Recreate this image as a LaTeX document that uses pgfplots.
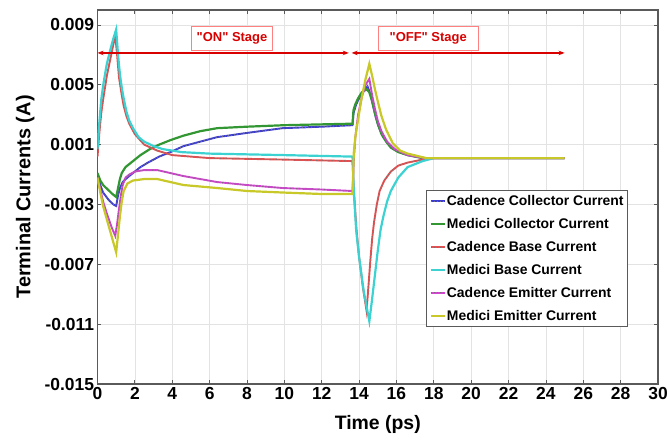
\documentclass[border=0pt]{standalone}
\usepackage{pgfplots}
\pgfplotsset{compat=1.18}
\usepackage{fontspec}
\setmainfont{Liberation Sans}[Ligatures=TeXOff]
\usetikzlibrary{arrows.meta}
\definecolor{cblue}{RGB}{60,60,210}
\definecolor{mgreen}{RGB}{50,150,50}
\definecolor{cred}{RGB}{230,80,80}
\definecolor{mcyan}{RGB}{60,210,210}
\definecolor{cmag}{RGB}{210,70,210}
\definecolor{myel}{RGB}{200,200,40}
\definecolor{axgray}{RGB}{90,90,90}
\begin{document}
\begin{tikzpicture}
\path[use as bounding box] (-97.5bp,-57bp) rectangle (572.5bp,384bp);
\begin{axis}[
  scale only axis, width=560.5bp, height=374bp,
  xmin=0, xmax=30, ymin=-0.015, ymax=0.01,
  xtick={0,2,...,30},
  ytick={-0.015,-0.011,-0.007,-0.003,0.001,0.005,0.009},
  yticklabels={-0.015,-0.011,-0.007,-0.003,0.001,0.005,0.009},
  scaled y ticks=false,
  /pgf/number format/assume math mode=true,
  tick label style={font=\fontsize{17.5}{20}\selectfont\bfseries},
  tick align=inside, major tick length=4bp,
  every tick/.style={axgray, line width=0.8bp},
  axis line style={axgray, line width=1.1bp},
  grid=major, grid style={gray!22, line width=0.7bp},
  xlabel={Time (ps)}, ylabel={Terminal Currents (A)},
  every axis x label/.style={at={(axis description cs:0.5,-0.107)}, anchor=center, font=\fontsize{19.5}{22}\selectfont\bfseries},
  every axis y label/.style={at={(axis description cs:-0.129,0.5)}, anchor=center, rotate=90, font=\fontsize{20}{22}\selectfont\bfseries},
  legend style={at={(rel axis cs:0.9465,0.5187)}, anchor=north east, draw=axgray, line width=0.8bp, fill=white,
    font=\fontsize{14}{16}\selectfont\bfseries, row sep=9.3bp, inner xsep=3bp, inner ysep=4bp,
    nodes={inner sep=1bp}},
  legend cell align=left,
  legend image code/.code={\draw[#1] (0bp,0bp) -- (14bp,0bp);},
  cad/.style={line width=1.9bp, postaction={draw=black!55, line width=0.9bp, dash pattern=on 0.9bp off 2.2bp}},
  med/.style={line width=2.2bp},
]
% Cadence Collector
\addplot[cad, cblue] coordinates {
(0,-0.0010) (0.15,-0.0017) (0.3,-0.0022) (0.6,-0.0027) (0.85,-0.0030) (1.0,-0.0031) (1.1,-0.0024)
(1.2,-0.0019) (1.35,-0.0015) (1.6,-0.0012) (1.9,-0.0009) (2.3,-0.0005) (2.7,-0.0002) (3.3,0.0002)
(3.9,0.0005) (4.6,0.0009) (5.5,0.0012) (6.4,0.0015) (8.1,0.0018) (9.9,0.0021) (12,0.0022) (13.65,0.0023)
(13.7,0.0031) (13.85,0.0037) (14.0,0.0041) (14.2,0.0045) (14.45,0.0049) (14.6,0.0044) (14.75,0.0036)
(14.9,0.0028) (15.05,0.0022) (15.3,0.0015) (15.6,0.0010) (16,0.0006) (16.6,0.0003) (17.5,0.0001) (25,0.0001)};
\addlegendentry{Cadence Collector Current}
% Medici Collector
\addplot[med, mgreen] coordinates {
(0,-0.0009) (0.15,-0.0014) (0.3,-0.0017) (0.55,-0.0020) (0.8,-0.0023) (1.0,-0.0025) (1.1,-0.0019)
(1.2,-0.0013) (1.3,-0.0009) (1.5,-0.0005) (1.9,-0.0001) (2.3,0.0003) (2.8,0.0007) (3.3,0.0010)
(3.9,0.0013) (4.6,0.0016) (5.5,0.0019) (6.4,0.0021) (8,0.0022) (10,0.0023) (13.65,0.0024)
(13.7,0.0033) (13.8,0.0037) (13.95,0.0041) (14.15,0.0045) (14.4,0.0047) (14.55,0.0045) (14.7,0.0039)
(14.85,0.0031) (15.0,0.0024) (15.2,0.0017) (15.45,0.0012) (15.7,0.0008) (16.1,0.0005) (16.6,0.0003)
(17.4,0.0001) (25,0.0001)};
\addlegendentry{Medici Collector Current}
% Cadence Base
\addplot[cad, cred] coordinates {
(0,0.0002) (0.1,0.0018) (0.2,0.0031) (0.3,0.0040) (0.5,0.0056) (0.7,0.0068) (0.85,0.0077) (0.95,0.0083)
(1.05,0.0070) (1.15,0.0055) (1.3,0.0043) (1.4,0.0036) (1.55,0.0029) (1.7,0.0024) (2.0,0.0017)
(2.5,0.0010) (3.2,0.0006) (4,0.0003) (6,0.0001) (10,0.0) (13.65,-0.0001)
(13.72,-0.0020) (13.85,-0.0045) (14.0,-0.0065) (14.2,-0.0085) (14.4,-0.0101) (14.5,-0.0085)
(14.6,-0.0068) (14.7,-0.0053) (14.8,-0.0042) (14.95,-0.0030) (15.1,-0.0021) (15.35,-0.0014)
(15.7,-0.0008) (16.1,-0.0004) (16.6,-0.0002) (17.4,0.0) (18,0.0001) (25,0.0001)};
\addlegendentry{Cadence Base Current}
% Medici Base
\addplot[med, mcyan] coordinates {
(0,0.0007) (0.1,0.0025) (0.2,0.0040) (0.32,0.0051) (0.5,0.0064) (0.7,0.0074) (0.85,0.0081) (1.0,0.0087)
(1.1,0.0070) (1.2,0.0057) (1.3,0.0048) (1.4,0.0041) (1.55,0.0032) (1.7,0.0026) (1.9,0.0021)
(2.2,0.0015) (2.5,0.0012) (3.0,0.0009) (3.5,0.0007) (4.5,0.0005) (6,0.0004) (10,0.0003) (13.65,0.0002)
(13.72,-0.0022) (13.85,-0.0048) (14.0,-0.0065) (14.25,-0.0088) (14.55,-0.0108) (14.7,-0.0093)
(14.85,-0.0077) (15.0,-0.0061) (15.15,-0.0047) (15.3,-0.0038) (15.5,-0.0028) (15.7,-0.0021)
(16.1,-0.0012) (16.6,-0.0005) (17.4,-0.0001) (18,0.0001) (25,0.0001)};
\addlegendentry{Medici Base Current}
% Cadence Emitter
\addplot[cad, cmag] coordinates {
(0,-0.0012) (0.15,-0.0020) (0.3,-0.0028) (0.5,-0.0036) (0.75,-0.0045) (0.95,-0.0051) (1.05,-0.0043)
(1.15,-0.0033) (1.25,-0.0024) (1.35,-0.0017) (1.5,-0.0012) (1.7,-0.0010) (2.0,-0.0008) (2.5,-0.0007)
(3.2,-0.0007) (3.9,-0.0009) (4.6,-0.0011) (5.5,-0.0013) (6.4,-0.0015) (8,-0.0017) (9.9,-0.0019)
(12,-0.0020) (13.65,-0.0021)
(13.72,0.0000) (13.8,0.0015) (13.95,0.0030) (14.15,0.0042) (14.35,0.0050) (14.55,0.0054) (14.7,0.0043)
(14.85,0.0034) (15.0,0.0026) (15.2,0.0019) (15.5,0.0012) (15.9,0.0007) (16.6,0.0003) (17.5,0.0001) (25,0.0001)};
\addlegendentry{Cadence Emitter Current}
% Medici Emitter
\addplot[med, myel] coordinates {
(0,-0.0012) (0.15,-0.0022) (0.3,-0.0031) (0.5,-0.0040) (0.75,-0.0051) (1.0,-0.0062) (1.1,-0.0050)
(1.2,-0.0038) (1.3,-0.0028) (1.4,-0.0021) (1.6,-0.0016) (1.9,-0.0014) (2.5,-0.0013) (3.2,-0.0013)
(3.9,-0.0015) (4.6,-0.0017) (5.5,-0.0018) (6.4,-0.0019) (8,-0.0021) (9.9,-0.0022) (12,-0.0023) (13.65,-0.0023)
(13.72,0.0005) (13.8,0.0015) (13.95,0.0027) (14.15,0.0042) (14.35,0.0054) (14.55,0.0064) (14.7,0.0056)
(14.85,0.0047) (15.0,0.0039) (15.2,0.0029) (15.45,0.0020) (15.8,0.0011) (16.2,0.0006) (16.6,0.0004)
(17.6,0.0001) (25,0.0001)};
\addlegendentry{Medici Emitter Current}
% stage arrows and labels
\draw[red!85!black, line width=1.3bp, {Stealth[length=6bp]}-{Stealth[length=6bp]}] (axis cs:0,0.00713) -- (axis cs:13.45,0.00713);
\draw[red!85!black, line width=1.3bp, {Stealth[length=6bp]}-{Stealth[length=6bp]}] (axis cs:13.6,0.00713) -- (axis cs:25,0.00713);
\node[draw=red!50, fill=white, text=red!85!black, font=\fontsize{13}{15}\selectfont\bfseries,
  minimum width=81bp, minimum height=24bp, inner sep=2bp] at (axis cs:7.2,0.0081) {"ON" Stage};
\node[draw=red!50, fill=white, text=red!85!black, font=\fontsize{13}{15}\selectfont\bfseries,
  minimum width=100bp, minimum height=24bp, inner sep=2bp] at (axis cs:17.7,0.0081) {"OFF" Stage};
\end{axis}
\end{tikzpicture}
\end{document}
